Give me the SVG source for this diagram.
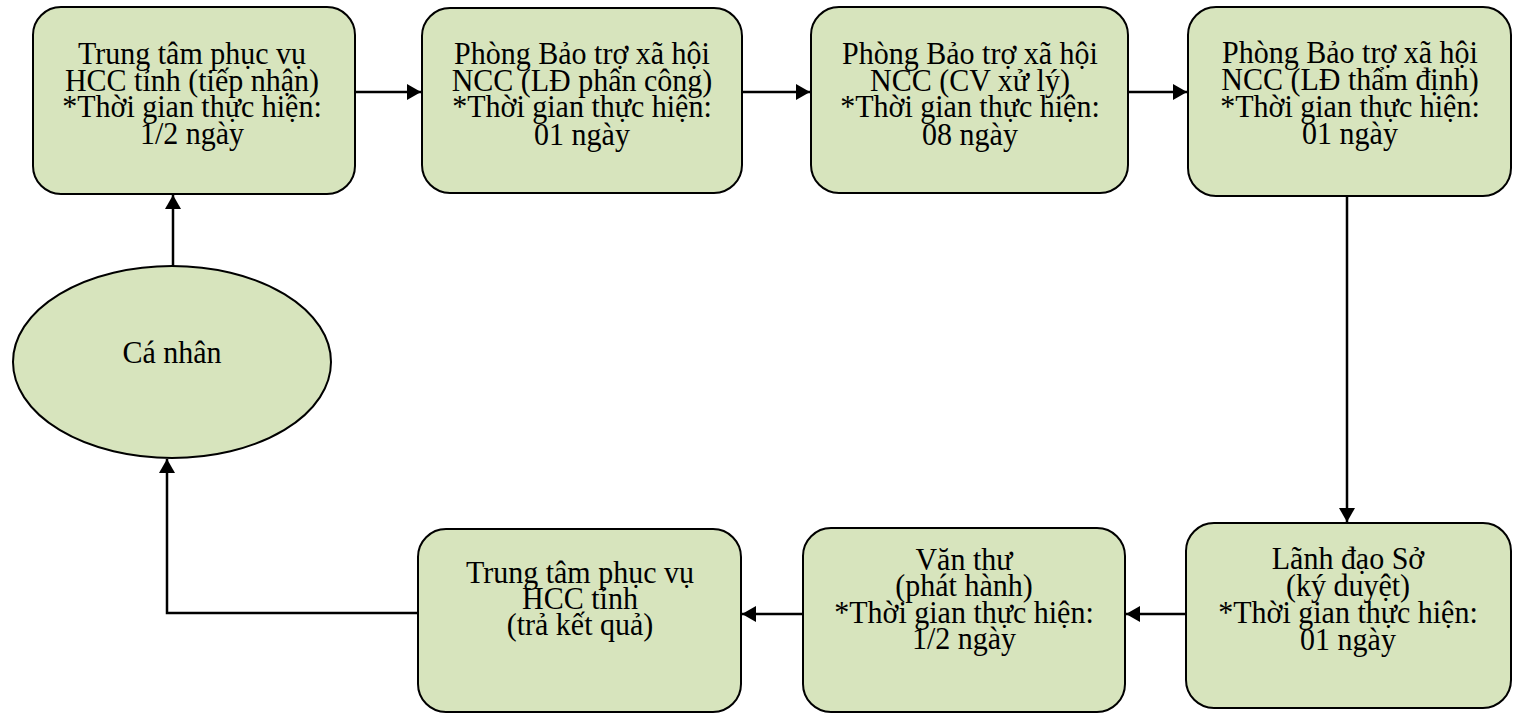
<svg xmlns="http://www.w3.org/2000/svg" width="1514" height="713" viewBox="0 0 1514 713">
  <style>
    .box { fill: #d7e4bd; stroke: #000; stroke-width: 2; }
    .lbl { font-family: "Liberation Serif", "Times New Roman", serif; font-size: 30px; fill: #000; text-anchor: middle; }
    .conn { fill: none; stroke: #000; stroke-width: 2.5; marker-end: url(#arrow); }
  </style>
  <defs>
    <marker id="arrow" viewBox="0 0 14 16" refX="14" refY="8" markerWidth="14" markerHeight="16" markerUnits="userSpaceOnUse" orient="auto">
      <path d="M0,0 L14,8 L0,16 Z" fill="#000"/>
    </marker>
  </defs>

  <!-- connectors -->
  <g id="connectors">
    <path class="conn" d="M355,92 H421"/>
    <path class="conn" d="M742,92 H810"/>
    <path class="conn" d="M1128,92 H1187"/>
    <path class="conn" d="M1347,196 V522"/>
    <path class="conn" d="M1186,614 H1126"/>
    <path class="conn" d="M803,614 H742"/>
    <path class="conn" d="M418,613 H167 V459"/>
    <path class="conn" d="M173,266 V195"/>
  </g>

  <!-- Trung tâm phục vụ HCC tỉnh (tiếp nhận) -->
  <g id="n1">
    <rect class="box" x="33" y="7" width="322" height="187" rx="28"/>
    <text class="lbl" x="192" transform="translate(0,64) scale(1,1.05)">Trung tâm phục vụ</text>
    <text class="lbl" x="192" transform="translate(0,91) scale(1,1.05)">HCC tỉnh (tiếp nhận)</text>
    <text class="lbl" x="192" transform="translate(0,117) scale(1,1.05)">*Thời gian thực hiện:</text>
    <text class="lbl" x="192" transform="translate(0,144) scale(1,1.05)">1/2 ngày</text>
  </g>

  <!-- Phòng Bảo trợ xã hội NCC (LĐ phân công) -->
  <g id="n2">
    <rect class="box" x="422" y="8" width="320" height="185" rx="28"/>
    <text class="lbl" x="582" transform="translate(0,64) scale(1,1.05)">Phòng Bảo trợ xã hội</text>
    <text class="lbl" x="582" transform="translate(0,91) scale(1,1.05)">NCC (LĐ phân công)</text>
    <text class="lbl" x="582" transform="translate(0,117) scale(1,1.05)">*Thời gian thực hiện:</text>
    <text class="lbl" x="582" transform="translate(0,145) scale(1,1.05)">01 ngày</text>
  </g>

  <!-- Phòng Bảo trợ xã hội NCC (CV xử lý) -->
  <g id="n3">
    <rect class="box" x="811" y="7" width="317" height="186" rx="28"/>
    <text class="lbl" x="970" transform="translate(0,64) scale(1,1.05)">Phòng Bảo trợ xã hội</text>
    <text class="lbl" x="970" transform="translate(0,91) scale(1,1.05)">NCC (CV xử lý)</text>
    <text class="lbl" x="970" transform="translate(0,117) scale(1,1.05)">*Thời gian thực hiện:</text>
    <text class="lbl" x="970" transform="translate(0,145) scale(1,1.05)">08 ngày</text>
  </g>

  <!-- Phòng Bảo trợ xã hội NCC (LĐ thẩm định) -->
  <g id="n4">
    <rect class="box" x="1188" y="7" width="323" height="189" rx="28"/>
    <text class="lbl" x="1350" transform="translate(0,63) scale(1,1.05)">Phòng Bảo trợ xã hội</text>
    <text class="lbl" x="1350" transform="translate(0,90) scale(1,1.05)">NCC (LĐ thẩm định)</text>
    <text class="lbl" x="1350" transform="translate(0,117) scale(1,1.05)">*Thời gian thực hiện:</text>
    <text class="lbl" x="1350" transform="translate(0,144) scale(1,1.05)">01 ngày</text>
  </g>

  <!-- Lãnh đạo Sở (ký duyệt) -->
  <g id="n5">
    <rect class="box" x="1186" y="523" width="325" height="185" rx="28"/>
    <text class="lbl" x="1348" transform="translate(0,569) scale(1,1.05)">Lãnh đạo Sở</text>
    <text class="lbl" x="1348" transform="translate(0,596) scale(1,1.05)">(ký duyệt)</text>
    <text class="lbl" x="1348" transform="translate(0,623) scale(1,1.05)">*Thời gian thực hiện:</text>
    <text class="lbl" x="1348" transform="translate(0,650) scale(1,1.05)">01 ngày</text>
  </g>

  <!-- Văn thư (phát hành) -->
  <g id="n6">
    <rect class="box" x="803" y="528" width="322" height="184" rx="28"/>
    <text class="lbl" x="964" transform="translate(0,570) scale(1,1.05)">Văn thư</text>
    <text class="lbl" x="964" transform="translate(0,596) scale(1,1.05)">(phát hành)</text>
    <text class="lbl" x="964" transform="translate(0,623) scale(1,1.05)">*Thời gian thực hiện:</text>
    <text class="lbl" x="964" transform="translate(0,649) scale(1,1.05)">1/2 ngày</text>
  </g>

  <!-- Trung tâm phục vụ HCC tỉnh (trả kết quả) -->
  <g id="n7">
    <rect class="box" x="418" y="529" width="323" height="183" rx="28"/>
    <text class="lbl" x="580" transform="translate(0,583) scale(1,1.05)">Trung tâm phục vụ</text>
    <text class="lbl" x="580" transform="translate(0,609) scale(1,1.05)">HCC tỉnh</text>
    <text class="lbl" x="580" transform="translate(0,635) scale(1,1.05)">(trả kết quả)</text>
  </g>

  <!-- Cá nhân -->
  <g id="n8">
    <ellipse class="box" cx="172" cy="362" rx="159" ry="96"/>
    <text class="lbl" x="172" transform="translate(0,363) scale(1,1.05)">Cá nhân</text>
  </g>
</svg>
